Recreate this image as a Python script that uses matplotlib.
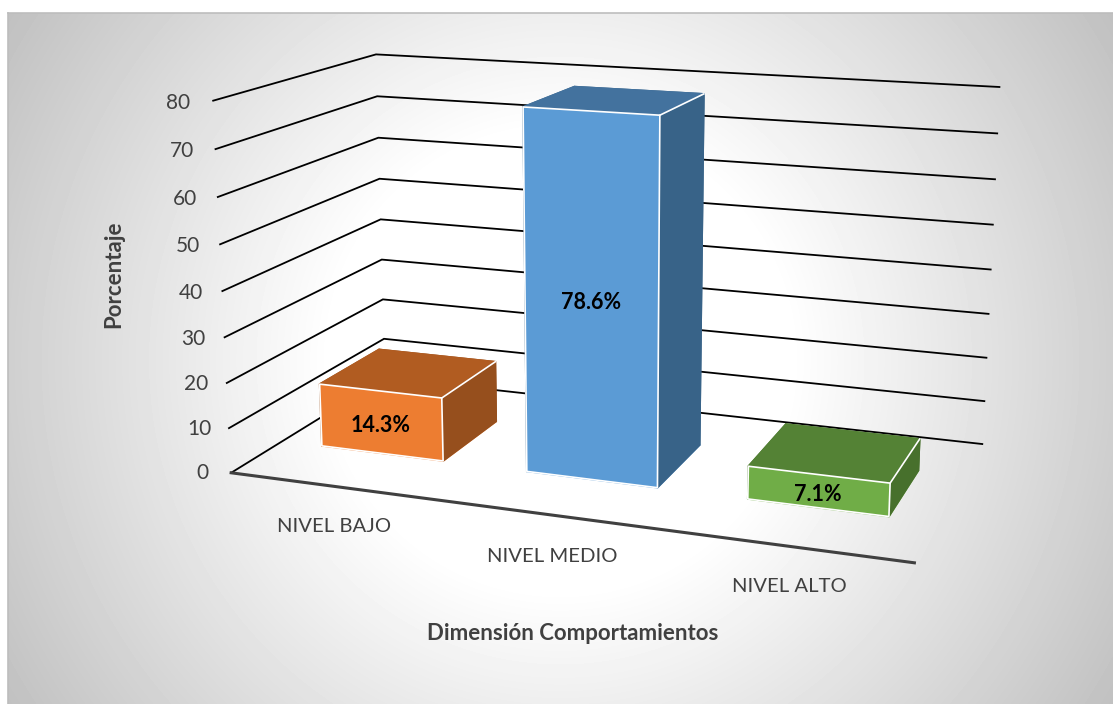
import numpy as np
import matplotlib
matplotlib.use("Agg")
import matplotlib.pyplot as plt
from mpl_toolkits.mplot3d import proj3d

categories = ["NIVEL BAJO", "NIVEL MEDIO", "NIVEL ALTO"]
values = [14.3, 78.6, 7.1]
value_labels = ["14.3%", "78.6%", "7.1%"]
z_ticks = [0, 10, 20, 30, 40, 50, 60, 70, 80]

front_colors = ["#ed7d31", "#5b9bd5", "#70ad47"]
top_colors = ["#b15c21", "#43729e", "#548235"]
side_colors = ["#964f1d", "#386388", "#47702c"]

plt.rcParams["font.family"] = ["Lato", "DejaVu Sans"]

W, H = 1113, 704
fig = plt.figure(figsize=(W / 100, H / 100), dpi=100, facecolor="white")

# panel with the radial gray fill
bg = fig.add_axes([8 / W, 0, (W - 8) / W, (H - 13) / H])
yy, xx = np.mgrid[13:H, 8:W]
r = np.sqrt((xx - 560) ** 2 + (yy - 360) ** 2)
shade = 1 - 0.25 * np.clip((r - 230) / (660 - 230), 0, 1)
bg.imshow(shade, cmap="gray", vmin=0, vmax=1, aspect="auto", interpolation="bilinear")
bg.set_xticks([])
bg.set_yticks([])
for name, sp in bg.spines.items():
    sp.set_visible(name in ("top", "left"))
    sp.set_color("#bdbdbd")
    sp.set_linewidth(1.2)

# camera fitted to the picture
S = 1000
left = 614.95 - 513.5
bottom = H - 280.06 - 513.5
ax = fig.add_axes([left / W, bottom / H, S / W, S / H], projection="3d", computed_zorder=False)
ax.set_xlim(0, 3, view_margin=0)
ax.set_ylim(0, 1, view_margin=0)
ax.set_zlim(0, 80, view_margin=0)
ax.view_init(elev=14.1561, azim=-70.1319, roll=-0.0583)
ax.set_proj_type("persp", focal_length=0.3724)
ax.set_box_aspect((1, 0.5019, 0.5435), zoom=0.8346)
ax.set_xticks([])
ax.set_yticks([])
ax.set_zticks([])
ax.set_axis_off()
ax.patch.set_visible(False)


def label_at(x, y, z, s, **kw):
    # plain 2D text placed at the projected 3D point
    px, py, _ = proj3d.proj_transform(x, y, z, ax.get_proj())
    ax.text2D(px, py, s, transform=ax.transData, ha="center", va="center", **kw)


for z in z_ticks:
    ax.plot([0, 0, 3], [0, 1, 1], [z, z, z], color="black", lw=1.3, zorder=1, solid_joinstyle="miter")
    label_at(-0.145 - 0.022 * z / 80, 0, z - 1, str(z), fontsize=15, color="#404040", zorder=6)
ax.plot([0, 3], [0, 0], [0, 0], color="#404040", lw=2.2, zorder=2)

half_w = 0.3002
y0, y1 = 0.3033, 0.6990
for i, v in enumerate(values):
    faces = [front_colors[i], top_colors[i], front_colors[i], side_colors[i], side_colors[i], side_colors[i]]
    edges = [front_colors[i], top_colors[i], "white", side_colors[i], side_colors[i], side_colors[i]]
    ax.bar3d(i + 0.5 - half_w, y0, 0, 2 * half_w, y1 - y0, v, color=faces, edgecolor=edges,
             linewidth=1.2, shade=False, zorder=3 + i * 0.1)
    ax.plot([i + 0.5 + half_w] * 2, [y0, y1], [v, v], color="white", lw=1.2, zorder=3.5 + i * 0.1)
    label_at(i + 0.5, y0, v / 2 - 0.7, value_labels[i], fontsize=15.5, fontweight="bold",
             color="black", zorder=7)

cat_xy = [(334, 527), (552, 556), (789, 586)]
for name, (px, py) in zip(categories, cat_xy):
    fig.text(px / W, 1 - py / H, name, fontsize=14.6, color="#404040", ha="center", va="center")

fig.text(573 / W, 1 - 633 / H, "Dimensión Comportamientos", fontsize=16, fontweight="bold",
         color="#404040", ha="center", va="center")
fig.text(114 / W, 1 - 274 / H, "Porcentaje", fontsize=16, fontweight="bold", color="#404040",
         rotation=90, ha="center", va="center")

fig.savefig("out.png", dpi=100)
